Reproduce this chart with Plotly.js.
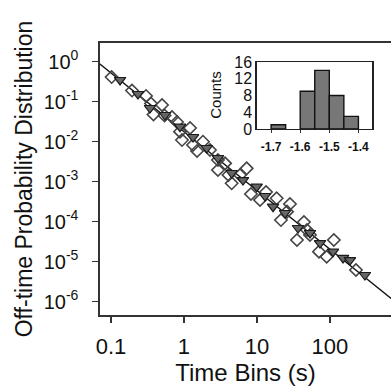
<!DOCTYPE html>
<html>
<head>
<meta charset="utf-8">
<script src="https://cdn.plot.ly/plotly-3.0.1.min.js"></script>
<style>html,body{margin:0;padding:0;background:#fff;}#chart{width:391px;height:392px;}</style>
</head>
<body>
<div id="chart"></div>
<script>
// Open diamonds: off-time distribution (data set 1)
const diamondX = [0.102, 0.194, 0.302, 0.353, 0.50, 0.382, 0.541, 0.685, 0.802, 0.882, 1.21, 0.939, 1.33, 1.82, 1.51, 2.27, 2.92, 3.65, 2.92, 4.07, 5.85, 7.22, 4.50, 8.27, 11.0, 13.3, 18.6, 28.3, 21.3, 25.8, 44.0, 48.4, 35.3, 113, 70.7, 90.1, 227, 53.2];
const diamondY = [0.414, 0.190, 0.139, 0.0902, 0.0827, 0.0479, 0.0452, 0.0414, 0.0311, 0.0178, 0.0220, 0.0110, 0.00827, 0.0100, 0.00586, 0.0062, 0.00349, 0.00288, 0.00196, 0.00147, 0.00147, 0.00216, 0.000912, 0.000493, 0.000349, 0.000553, 0.000385, 0.000277, 0.000110, 0.000178, 9.8e-5, 6.2e-5, 3.49e-5, 3.49e-5, 1.78e-5, 1.33e-5, 6.2e-6, 4.65e-5];
// Filled triangles: data set 2
const triX = [0.133, 0.234, 0.342, 0.549, 0.882, 1.33, 2.05, 2.92, 4.50, 6.43, 9.9, 12.9, 16.6, 24.2, 36.5, 53.2, 73.0, 110, 151, 188, 301];
const triY = [0.349, 0.156, 0.0696, 0.0465, 0.0237, 0.0131, 0.00696, 0.00391, 0.00165, 0.00110, 0.00075, 0.000439, 0.000237, 0.000165, 6.96e-5, 5.22e-5, 2.93e-5, 1.78e-5, 1.24e-5, 1.10e-5, 4.65e-6];
// Power-law fit: log10(y) = fitIntercept + fitSlope*log10(x)
const fitSlope = -1.47;
const fitIntercept = -1.75;
const fitX = [0.05, 1000];
const fitY = fitX.map(x => Math.pow(10, fitIntercept + fitSlope * Math.log10(x)));
// Inset histogram of fitted exponents
const histCenters = [-1.675, -1.575, -1.525, -1.475, -1.425];
const histCounts = [1, 9, 14, 8, 3];
const xTickVals = [0.1, 1, 10, 100];
const xTickText = ['0.1', '1', '10', '100'];
const yTickVals = [1, 1e-1, 1e-2, 1e-3, 1e-4, 1e-5, 1e-6];
const yTickText = ['10<sup>0</sup>', '10<sup>-1</sup>', '10<sup>-2</sup>', '10<sup>-3</sup>', '10<sup>-4</sup>', '10<sup>-5</sup>', '10<sup>-6</sup>'];
const insetXTicks = [-1.7, -1.6, -1.5, -1.4];
const insetYTicks = [0, 4, 8, 12, 16];

const FONT = 'Liberation Sans, Arial, sans-serif';
const traces = [
  {x: fitX, y: fitY, mode: 'lines', line: {color: '#111', width: 1.4}, hoverinfo: 'skip', xaxis: 'x', yaxis: 'y'},
  {x: diamondX, y: diamondY, mode: 'markers', marker: {symbol: 'diamond-open', size: 9.5, color: '#444', line: {width: 1.6, color: '#444'}}, xaxis: 'x', yaxis: 'y'},
  {x: triX, y: triY, mode: 'markers', marker: {symbol: 'triangle-down', size: 10, color: '#666', line: {width: 1.2, color: '#1a1a1a'}}, xaxis: 'x', yaxis: 'y'},
  {x: histCenters, y: histCounts, type: 'bar', width: 0.05, marker: {color: '#777', line: {color: '#111', width: 1.4}}, xaxis: 'x2', yaxis: 'y2'}
];
const layout = {
  width: 391, height: 392,
  margin: {l: 100, r: 0, t: 43, b: 77},
  paper_bgcolor: '#fff', plot_bgcolor: 'rgba(0,0,0,0)',
  showlegend: false,
  font: {family: FONT, color: '#111'},
  xaxis: {
    type: 'log', range: [-1.1507, 2.836], domain: [0, 1],
    tickvals: xTickVals, ticktext: xTickText, ticks: 'outside', ticklen: 6, tickwidth: 1.3, tickcolor: '#333',
    showline: true, mirror: true, linecolor: '#333', linewidth: 1.6,
    showgrid: false, zeroline: false, tickfont: {size: 22, family: FONT, color: '#111'},
    ticklabelstandoff: 5,
    title: {text: 'Time Bins (s)', font: {size: 24, family: FONT, color: '#111'}, standoff: 4}
  },
  yaxis: {
    type: 'log', range: [-6.3325, 0.4675], domain: [0, 1],
    tickvals: yTickVals, ticktext: yTickText, ticks: 'outside', ticklen: 6, tickwidth: 1.3, tickcolor: '#333',
    showline: true, mirror: false, linecolor: '#333', linewidth: 1.6,
    showgrid: false, zeroline: false, tickfont: {size: 20, family: FONT, color: '#111'},
    ticklabelstandoff: 10,
    title: {text: 'Off-time Probability Distribution', font: {size: 23, family: FONT, color: '#111'}, standoff: 4}
  },
  xaxis2: {
    anchor: 'y2', domain: [0.538, 0.936], range: [-1.75, -1.352],
    tickvals: insetXTicks, ticktext: insetXTicks.map(v => v.toFixed(1)), ticks: 'outside', ticklen: 3, tickcolor: '#333',
    showline: true, mirror: true, linecolor: '#222', linewidth: 1.3,
    showgrid: false, zeroline: false, ticklabelstandoff: 3,
    tickfont: {size: 12, family: FONT, color: '#111', weight: 'bold'}
  },
  yaxis2: {
    anchor: 'x2', domain: [0.684, 0.930], range: [0, 16],
    tickvals: insetYTicks, ticks: '', 
    showline: true, mirror: true, linecolor: '#222', linewidth: 1.3,
    showgrid: false, zeroline: false, tickfont: {size: 16, family: FONT, color: '#111'}
  },
  annotations: [
    {text: 'Counts', xref: 'paper', yref: 'paper', x: 0.398, y: 0.809, xanchor: 'center', yanchor: 'middle',
     textangle: -90, showarrow: false, font: {size: 15, family: FONT, color: '#111'}}
  ]
};
Plotly.newPlot('chart', traces, layout, {staticPlot: true, displayModeBar: false});
</script>
</body>
</html>
